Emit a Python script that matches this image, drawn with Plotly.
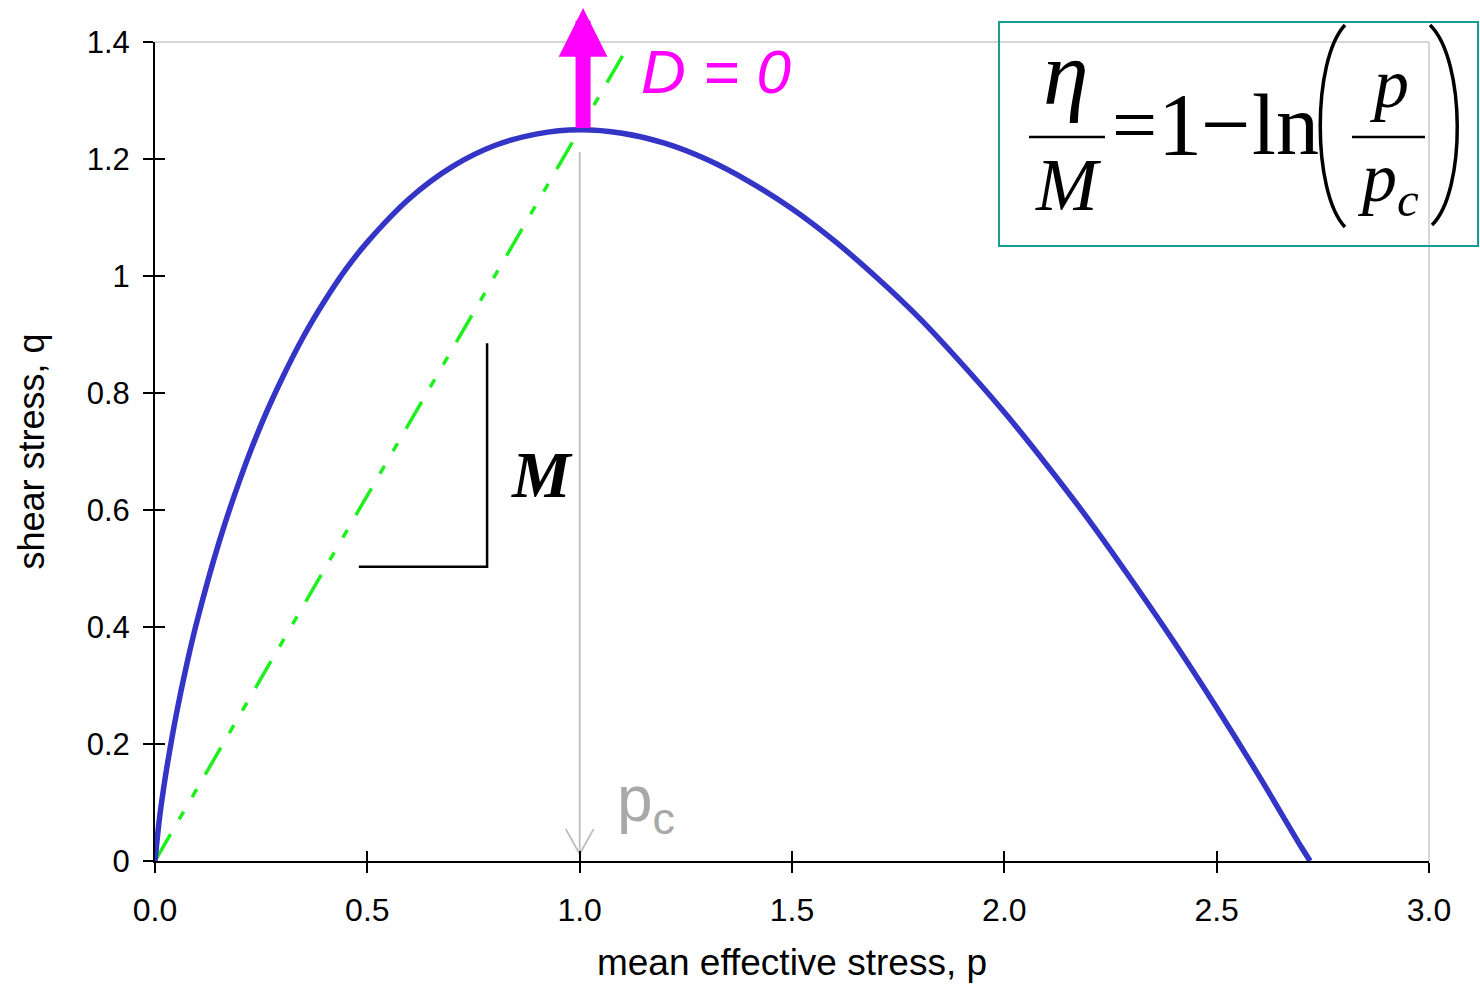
import plotly.graph_objects as go

# ---- data ----
p_vals = [0.0, 0.01, 0.02, 0.03, 0.05, 0.075, 0.1, 0.15, 0.2, 0.25, 0.3, 0.35, 0.4, 0.45, 0.5,
          0.6, 0.7, 0.8, 0.9, 1.0, 1.1, 1.2, 1.3, 1.4, 1.5, 1.6, 1.7, 1.8, 1.9, 2.0,
          2.1, 2.2, 2.3, 2.4, 2.5, 2.6, 2.7, 2.72]
q_vals = [0.0, 0.07, 0.123, 0.169, 0.25, 0.337, 0.413, 0.543, 0.652, 0.746, 0.826, 0.897, 0.958, 1.012, 1.058,
          1.133, 1.187, 1.223, 1.243, 1.25, 1.244, 1.227, 1.199, 1.161, 1.115, 1.06, 0.997, 0.928, 0.85, 0.767,
          0.677, 0.582, 0.48, 0.374, 0.262, 0.145, 0.023, 0.0]

csl_p = [0.0, 1.2]          # critical state line q = M p
csl_q = [0.0, 1.5]

bracket_p = [0.48, 0.782, 0.782]
bracket_q = [0.503, 0.503, 0.885]

pc_arrow_p = [1.0, 1.0]
pc_arrow_q = [1.212, 0.012]
pc_head_p = [0.967, 1.0, 1.033]
pc_head_q = [0.055, 0.012, 0.055]

x_ticks = [0.0, 0.5, 1.0, 1.5, 2.0, 2.5, 3.0]
y_ticks = [0, 0.2, 0.4, 0.6, 0.8, 1.0, 1.2, 1.4]

# ---- layout helpers (pixel -> paper) ----
W, H = 1480, 988
L, R, T, B = 155, 1429, 42, 861


def fx(px):
    return (px - L) / (R - L)


def fy(py):
    return (B - py) / (B - T)


SANS = "Arial, Liberation Sans, Helvetica, sans-serif"
SERIF = "Times New Roman, Liberation Serif, serif"
BLUE = "#3434c6"
GREEN = "#1ef01e"
MAGENTA = "#ff00ff"
GREY = "#bdbdbd"
TEAL = "#179b9b"

fig = go.Figure()

fig.add_trace(go.Scatter(x=csl_p, y=csl_q, mode="lines",
                         line=dict(color=GREEN, width=3.5, dash="31px,17px,9px,17px,9px,17px"),
                         hoverinfo="skip"))
fig.add_trace(go.Scatter(x=p_vals, y=q_vals, mode="lines", line_shape="spline",
                         line=dict(color=BLUE, width=5.5), hoverinfo="skip"))
fig.add_trace(go.Scatter(x=bracket_p, y=bracket_q, mode="lines",
                         line=dict(color="black", width=2.5), hoverinfo="skip"))
fig.add_trace(go.Scatter(x=pc_arrow_p, y=pc_arrow_q, mode="lines",
                         line=dict(color=GREY, width=1.8), hoverinfo="skip"))
fig.add_trace(go.Scatter(x=pc_head_p, y=pc_head_q, mode="lines",
                         line=dict(color=GREY, width=1.8), hoverinfo="skip"))
# helper trace for overlay axes (crossing ticks)
fig.add_trace(go.Scatter(x=[0], y=[0], xaxis="x2", yaxis="y2", mode="markers",
                         marker=dict(opacity=0), hoverinfo="skip"))

shapes = []
# light grey frame (top & right)
shapes.append(dict(type="line", xref="paper", yref="paper", x0=0, x1=1, y0=1, y1=1,
                   line=dict(color="#c8c8c8", width=1.5), layer="below"))
shapes.append(dict(type="line", xref="paper", yref="paper", x0=1, x1=1, y0=0, y1=1,
                   line=dict(color="#c8c8c8", width=1.5), layer="below"))
# formula box
shapes.append(dict(type="rect", xref="paper", yref="paper", x0=fx(999), x1=fx(1478), y0=fy(246), y1=fy(22),
                   line=dict(color=TEAL, width=2)))
# fraction bars
shapes.append(dict(type="line", xref="paper", yref="paper", x0=fx(1029), x1=fx(1105), y0=fy(137), y1=fy(137),
                   line=dict(color="black", width=2.5)))
shapes.append(dict(type="line", xref="paper", yref="paper", x0=fx(1352), x1=fx(1425), y0=fy(137), y1=fy(137),
                   line=dict(color="black", width=2.5)))
# big parentheses
shapes.append(dict(type="path", xref="paper", yref="paper",
                   path=(f"M {fx(1345)},{fy(25)} C {fx(1312)},{fy(60)} {fx(1312)},{fy(192)} "
                         f"{fx(1345)},{fy(227)}"),
                   line=dict(color="black", width=3.5)))
shapes.append(dict(type="path", xref="paper", yref="paper",
                   path=(f"M {fx(1430)},{fy(25)} C {fx(1466)},{fy(60)} {fx(1466)},{fy(192)} "
                         f"{fx(1432)},{fy(225)}"),
                   line=dict(color="black", width=3.5)))

ann = []
# magenta arrow
ann.append(dict(xref="x", yref="paper", x=1.008, y=fy(8), ax=0, ay=127, axref="pixel", ayref="pixel",
                text=" ", showarrow=True, arrowhead=2, arrowwidth=15, arrowsize=0.65, arrowcolor=MAGENTA,
                font=dict(size=10)))
ann.append(dict(xref="x", yref="y", x=1.321, y=1.35, text="<i>D = 0</i>", showarrow=False,
                xanchor="center", yanchor="middle",
                font=dict(family=SANS, size=62, color=MAGENTA)))
ann.append(dict(xref="x", yref="y", x=1.084, y=0.1, text="p<sub>c</sub>", showarrow=False,
                xanchor="left", yanchor="middle",
                font=dict(family=SANS, size=64, color="#a8a8a8")))
ann.append(dict(xref="x", yref="y", x=0.911, y=0.66, text="<b><i>M</i></b>", showarrow=False,
                xanchor="center", yanchor="middle",
                font=dict(family=SERIF, size=66, color="black")))


def formula(px, py, text, size):
    ann.append(dict(xref="paper", yref="paper", x=fx(px), y=fy(py), text=text, showarrow=False,
                    xanchor="center", yanchor="middle",
                    font=dict(family=SERIF, size=size, color="black")))


formula(1066, 73, "<i>η</i>", 92)
formula(1068, 185, "<i>M</i>", 74)
formula(1134, 125, "=", 80)
formula(1180, 125, "1", 88)
formula(1226, 125, "−", 88)
formula(1285, 125, "ln", 86)
formula(1389, 83, "<i>p</i>", 70)
formula(1388, 183, "<i>p<sub>c</sub></i>", 70)

fig.update_layout(
    width=W, height=H,
    margin=dict(l=L, r=W - R, t=T, b=H - B, pad=0, autoexpand=False),
    paper_bgcolor="white", plot_bgcolor="white",
    showlegend=False,
    shapes=shapes, annotations=ann,
    font=dict(family=SANS, color="black"),
    xaxis=dict(range=[0, 3.0], tickvals=x_ticks, tickformat=".1f", ticks="outside", ticklen=10,
               tickwidth=2, tickcolor="black", showline=True, linecolor="black", linewidth=2,
               showgrid=False, zeroline=False, tickfont=dict(size=32), ticklabelstandoff=10,
               title=dict(text="mean effective stress, p", font=dict(size=37), standoff=22)),
    yaxis=dict(range=[0, 1.4], tickvals=y_ticks, ticks="outside", ticklen=10,
               tickwidth=2, tickcolor="black", showline=True, linecolor="black", linewidth=2,
               showgrid=False, zeroline=False, tickfont=dict(size=31), ticklabelstandoff=7,
               title=dict(text="shear stress, q", font=dict(size=36), standoff=31)),
    xaxis2=dict(overlaying="x", matches="x", range=[0, 3.0], tickvals=x_ticks, ticks="inside", ticklen=10,
                tickwidth=2, tickcolor="black", showticklabels=False, showgrid=False, zeroline=False,
                showline=False, side="bottom"),
    yaxis2=dict(overlaying="y", matches="y", range=[0, 1.4], tickvals=y_ticks, ticks="inside", ticklen=10,
                tickwidth=2, tickcolor="black", showticklabels=False, showgrid=False, zeroline=False,
                showline=False, side="left"),
)

fig.write_html("out.html")
